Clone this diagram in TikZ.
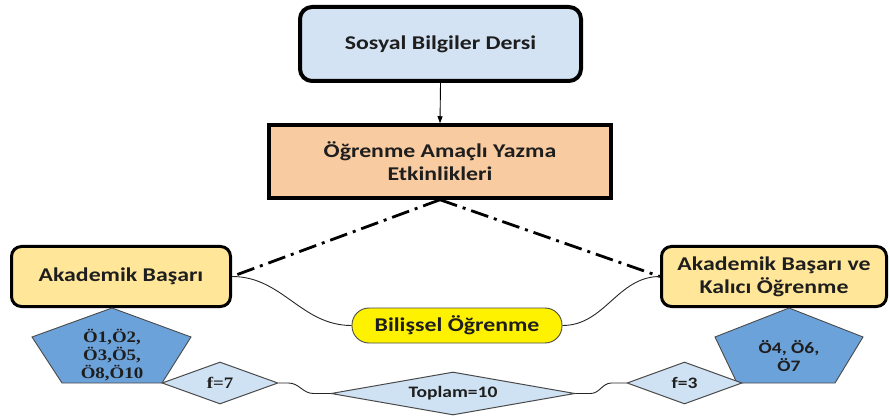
\documentclass[tikz,border=0pt]{standalone}
\usepackage{fontspec}
\newfontfamily\calib{Carlito}[FakeStretch=1.22]
\newfontfamily\camb{Liberation Serif}[FakeStretch=1.18]
\usetikzlibrary{shapes.geometric,arrows.meta,calc}

\definecolor{boxblue}{HTML}{D3E3F4}
\definecolor{boxpeach}{HTML}{F8CBA0}
\definecolor{boxyellow}{HTML}{FFE699}
\definecolor{pentblue}{HTML}{6CA2DA}
\definecolor{diablue}{HTML}{CFE2F3}
\definecolor{ink}{HTML}{1E1E1E}
\definecolor{edgegray}{HTML}{4A4A4A}

\tikzset{
  bigtext/.style={text=ink, font=\calib\bfseries\fontsize{19.5}{23}\selectfont, align=center},
  smalltext/.style={text=ink, font=\calib\bfseries\fontsize{16}{18}\selectfont, align=center},
  seriftext/.style={text=ink, font=\camb\bfseries\fontsize{16}{18}\selectfont, align=center},
  topbox/.style={bigtext, draw=black, line width=4pt, rounded corners=12pt, fill=boxblue,
    minimum width=281pt, minimum height=74pt, inner sep=0pt},
  peachbox/.style={bigtext, draw=black, line width=3.5pt, fill=boxpeach,
    minimum width=342pt, minimum height=73pt, inner sep=0pt},
  yelbox/.style={bigtext, draw=black, line width=3pt, rounded corners=10pt, fill=boxyellow,
    minimum height=60pt, inner sep=0pt},
  bilbox/.style={bigtext, draw=edgegray, line width=0.9pt, rounded corners=17pt, fill=yellow,
    minimum width=210pt, minimum height=35pt, inner sep=0pt},
  dia/.style={diamond, aspect=2.7, draw=edgegray, line width=1pt, fill=diablue, inner sep=0pt},
  pent/.style={draw=edgegray, line width=0.9pt, fill=pentblue},
  thinline/.style={draw=black!85, line width=0.9pt},
  dashdot/.style={draw=black, line width=2.8pt,
    dash pattern=on 18pt off 6pt on 3pt off 6pt},
}

\begin{document}
\begin{tikzpicture}[x=1pt,y=-1pt]
\useasboundingbox (0,0) rectangle (890,419);

% main boxes
\node[topbox] (sbd) at (440.5,44) {Sosyal Bilgiler Dersi};
\node[peachbox] (oay) at (440,161.5) {Öğrenme Amaçlı Yazma\\Etkinlikleri};
\node[yelbox, minimum width=219pt] (ab) at (121,276.5) {Akademik Başarı};
\node[yelbox, minimum width=225pt] (abk) at (774,276.5) {Akademik Başarı ve\\Kalıcı Öğrenme};
\node[bilbox] (bo) at (457,325.5) {Bilişsel Öğrenme};

% arrow between the top boxes
\draw[-{Triangle[length=7pt,width=5pt]}, line width=0.9pt] (sbd.south) -- (oay.north);

% dash-dot links to the outcome boxes
\draw[dashdot] (oay.south) -- (ab.east);
\draw[dashdot] (oay.south) -- (abk.west);

% curved links through the cognitive learning node
\draw[thinline] (ab.east) to[out=0,in=180] (bo.west);
\draw[thinline] (bo.east) to[out=0,in=180] (abk.west);

% student groups
\draw[pent] (112,308) -- (191,337) -- (162,383) -- (62,383) -- (32,337) -- cycle;
\node[seriftext] (grpA) at (112,355.5) {Ö1,Ö2,\\Ö3,Ö5,\\Ö8,Ö10};
\draw[pent] (789,308) -- (863,337) -- (835,383) -- (737,383) -- (715,337) -- cycle;
\node[smalltext] (grpB) at (789,356) {Ö4, Ö6,\\Ö7};

% frequencies
\node[dia, minimum width=116pt, minimum height=42pt] (f7) at (220,383) {};
\node[seriftext] at (f7) {f=7};
\node[dia, minimum width=244pt, minimum height=43pt] (tp) at (453,393.5) {};
\node[smalltext] at (tp) {Toplam=10};
\node[dia, minimum width=115pt, minimum height=42pt] (f3) at (684.5,383) {};
\node[smalltext] at (f3) {f=3};

\draw[thinline] (f7.east) -- ++(10,0) to[out=0,in=180] ($(tp.west)+(-17,0)$) -- (tp.west);
\draw[thinline] (tp.east) -- ++(15,0) to[out=0,in=180] ($(f3.west)+(-15,0)$) -- (f3.west);
\end{tikzpicture}
\end{document}
